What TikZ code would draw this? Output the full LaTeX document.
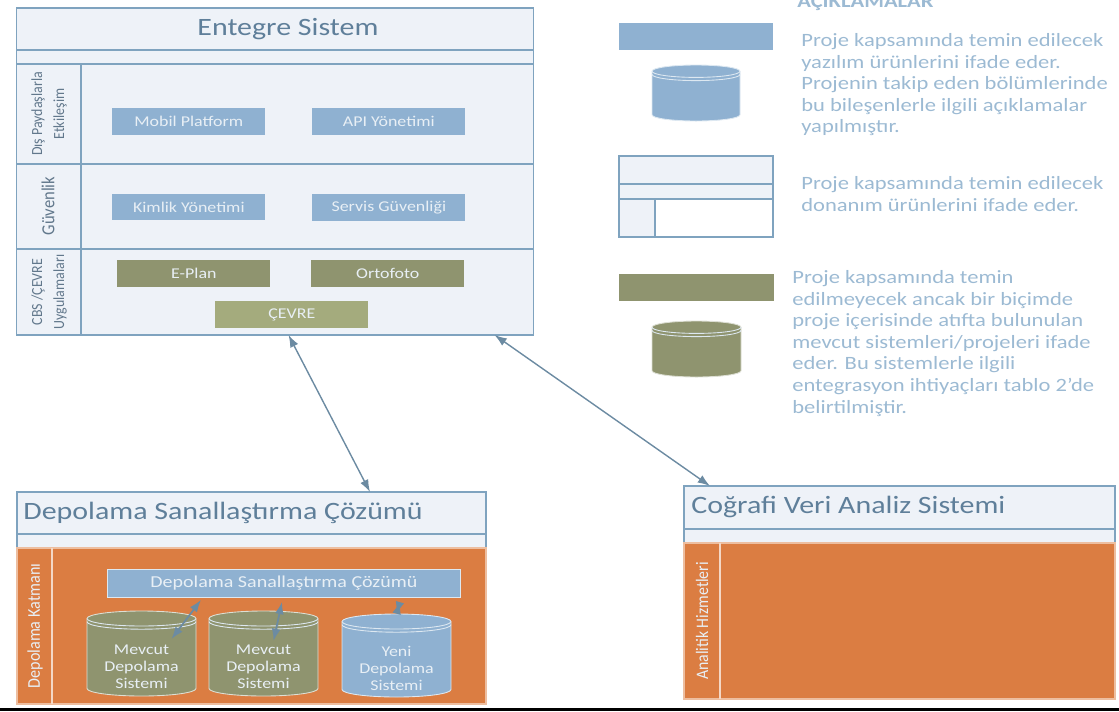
\documentclass[tikz,border=0pt]{standalone}
\usepackage{fontspec}
\setmainfont{Carlito}[FakeStretch=1.2]
\newfontfamily\vertfont{Carlito}[FakeStretch=0.9]
\usetikzlibrary{positioning, calc, arrows.meta}
\definecolor{panelfill}{HTML}{EEF2F8}
\definecolor{panelline}{HTML}{7FA3BF}
\definecolor{softblue}{HTML}{8FB1D1}
\definecolor{olive}{HTML}{8F946F}
\definecolor{paleolive}{HTML}{A4AB7D}
\definecolor{rust}{HTML}{DB7D42}
\definecolor{headtext}{HTML}{5F7F9A}
\definecolor{notetext}{HTML}{9CBAD3}
\definecolor{sidetext}{HTML}{62788C}
\definecolor{boxtext}{HTML}{E8EFF5}
\tikzset{
  panel/.style={draw=panelline, fill=panelfill, line width=0.7pt, anchor=north west, inner sep=0pt, outer sep=0pt},
  rustpanel/.style={draw=white!50!rust, fill=rust, line width=0.7pt, anchor=north west, inner sep=0pt, outer sep=0pt},
  headlabel/.style={font=\fontsize{14.2}{16}\selectfont, text=headtext, inner sep=0pt},
  sidelabel/.style={font=\vertfont\fontsize{8.8}{12.5}\selectfont, text=sidetext, rotate=90, align=center},
  swbox/.style={fill=softblue, text=boxtext, anchor=north west, inner sep=0pt, font=\fontsize{8.5}{10}\selectfont, minimum width=3.06cm, minimum height=0.53cm},
  extbox/.style={swbox, fill=olive},
  dbtext/.style={text=boxtext, align=center, inner sep=0pt, font=\fontsize{8.5}{9.7}\selectfont},
  rim/.style={white!70!softblue, line width=0.5pt},
  note/.style={anchor=north west, align=left, inner sep=0pt, text=notetext, font=\fontsize{10.7}{12.3}\selectfont},
  link/.style={{Latex[length=7pt,width=5pt]}-{Latex[length=7pt,width=5pt]}, draw=panelline!85!black, line width=0.8pt},
}
% name, centre x, top y, x radius, y radius, height, colour
\newcommand{\dbdisk}[7]{
      \node[minimum width=#4*0.04cm, minimum height=#6*0.02cm, inner sep=0pt, outer sep=0pt, anchor=north] at (#2,#3) (#1) {};
      \filldraw[fill=#7, draw=white!70!#7, line width=0.5pt] (#2-#4,#3+#5) arc[start angle=180, end angle=0, x radius=#4*0.02cm, y radius=#5*0.02cm]
        -- (#2+#4,#3+#6-#5) arc[start angle=0, end angle=-180, x radius=#4*0.02cm, y radius=#5*0.02cm] -- cycle;
      \draw[rim] (#2-#4,#3+#5) arc[start angle=180, end angle=360, x radius=#4*0.02cm, y radius=#5*0.02cm];
      \draw[rim] (#2-#4,#3+#5+3.2) arc[start angle=180, end angle=360, x radius=#4*0.02cm, y radius=#5*0.02cm];
}
\begin{document}
\begin{tikzpicture}[x=0.02cm, y=-0.02cm]
      \useasboundingbox (0,0) rectangle (1119,711);
      \fill[black] (0,708) rectangle (1119,711);

      \node[panel, minimum width=10.34cm, minimum height=0.84cm] at (16.5,8) (entegre) {};
      \node[headlabel] at ($(entegre)+(13,0)$) {Entegre Sistem};
      \node[panel, minimum width=10.34cm, minimum height=0.28cm, below=0cm of entegre] (entegrebar) {};
      \node[panel, minimum width=10.34cm, minimum height=2cm, below=0cm of entegrebar] (rowdis) {};
      \node[panel, minimum width=10.34cm, minimum height=1.7cm, below=0cm of rowdis] (rowguv) {};
      \node[panel, minimum width=10.34cm, minimum height=1.72cm, below=0cm of rowguv] (rowcbs) {};
      \draw[panelline, line width=0.7pt] (rowdis.north west) ++(64.5,0) coordinate (sidetop) -- (sidetop |- rowcbs.south);
      \node[sidelabel] at (49,114) (labdis) {Dış Paydaşlarla\\Etkileşim};
      \node[sidelabel, font=\vertfont\fontsize{10.5}{12.5}\selectfont] at (48,206) (labguv) {Güvenlik};
      \node[sidelabel] at (49,292) (labcbs) {CBS /ÇEVRE\\Uygulamaları};

      \node[swbox] at (112,108) (mobil) {Mobil Platform};
      \node[swbox] at (312,108) (api) {API Yönetimi};
      \node[swbox] at (112,193.5) (kimlik) {Kimlik Yönetimi};
      \node[swbox] at (312,194) (servis) {Servis Güvenliği};
      \node[extbox] at (117,260) (eplan) {E-Plan};
      \node[extbox] at (311,260) (orto) {Ortofoto};
      \node[extbox, fill=paleolive] at (215,301) (cevre) {ÇEVRE};

      \node[panel, minimum width=9.38cm, minimum height=0.84cm] at (17,492) (depo) {};
      \node[headlabel, anchor=west] at (23,513) {Depolama Sanallaştırma Çözümü};
      \node[panel, minimum width=9.38cm, minimum height=0.28cm, below=0cm of depo] (depobar) {};
      \node[rustpanel, minimum width=9.38cm, minimum height=3.12cm, below=0cm of depobar] (deporow) {};
      \draw[white!70!rust, line width=0.7pt] (deporow.north west) ++(35,0) coordinate (deposide) -- (deposide |- deporow.south);
      \node[sidelabel, text=boxtext, font=\vertfont\fontsize{10.2}{12}\selectfont] at (35,626) (labdepo) {Depolama Katmanı};
      \node[swbox, draw=white!70!softblue, line width=0.5pt, minimum width=7.06cm, minimum height=0.56cm] at (107,569) (sanal) {\fontsize{9.5}{11}\selectfont Depolama Sanallaştırma Çözümü};

      \dbdisk{mevcuta}{141.5}{611}{54.5}{7.5}{85}{olive}
      \node[dbtext] at ($(mevcuta.center)+(0,13.5)$) (texta) {Mevcut\\Depolama\\Sistemi};
      \dbdisk{mevcutb}{263.5}{611}{54.5}{7.5}{85}{olive}
      \node[dbtext] at ($(mevcutb.center)+(0,13.5)$) (textb) {Mevcut\\Depolama\\Sistemi};
      \dbdisk{yeni}{396.5}{614}{54.5}{7.5}{83}{softblue}
      \node[dbtext] at ($(yeni.center)+(0,12.5)$) (textc) {Yeni\\Depolama\\Sistemi};

      \node[panel, minimum width=8.62cm, minimum height=0.86cm] at (684,486) (cografi) {};
      \node[headlabel, anchor=west] at (691,507) {Coğrafi Veri Analiz Sistemi};
      \node[panel, minimum width=8.62cm, minimum height=0.28cm, below=0cm of cografi] (cografibar) {};
      \node[rustpanel, minimum width=8.62cm, minimum height=3.12cm, below=0cm of cografibar] (cografirow) {};
      \draw[white!70!rust, line width=0.7pt] (cografirow.north west) ++(36,0) coordinate (cografiside) -- (cografiside |- cografirow.south);
      \node[sidelabel, text=boxtext, font=\vertfont\fontsize{10}{12}\selectfont] at (702,621) (labanalitik) {Analitik Hizmetleri};

      \node[swbox, minimum width=3.08cm, minimum height=0.54cm] at (619,23) (keysw) {};
      \dbdisk{keydb}{696}{65}{44}{6.2}{56}{softblue}
      \node[panel, fill=white, minimum width=3.08cm, minimum height=0.56cm] at (619,156) (keyhead) {};
      \node[panel, minimum width=3.08cm, minimum height=0.3cm, below=0cm of keyhead] (keybar) {};
      \node[panel, fill=white, minimum width=3.08cm, minimum height=0.76cm, below=0cm of keybar] (keybody) {};
      \node[panel, minimum width=0.72cm, minimum height=0.76cm, below=0cm of keybar.south west, anchor=north west] (keyside) {};
      \fill[panelfill] (keyhead.north west) rectangle (keyhead.south east);
      \draw[panelline, line width=0.7pt] (keyhead.north west) rectangle (keyhead.south east);
      \node[extbox, minimum width=3.1cm, minimum height=0.54cm] at (619,274) (keyext) {};
      \dbdisk{keyextdb}{696.5}{321}{44.5}{6.2}{56}{olive}

      \node[note, font=\bfseries\fontsize{10.7}{12}\selectfont] at (797,-5) (keytitle) {AÇIKLAMALAR};
      \node[note] at (801,33) (notesw) {Proje kapsamında temin edilecek\\yazılım ürünlerini ifade eder.\\Projenin takip eden bölümlerinde\\bu bileşenlerle ilgili açıklamalar\\yapılmıştır.};
      \node[note] at (801,176) (notehw) {Proje kapsamında temin edilecek\\donanım ürünlerini ifade eder.};
      \node[note] at (792,270) (noteext) {Proje kapsamında temin\\edilmeyecek ancak bir biçimde\\proje içerisinde atıfta bulunulan\\mevcut sistemleri/projeleri ifade\\eder. Bu sistemlerle ilgili\\entegrasyon ihtiyaçları tablo 2'de\\belirtilmiştir.};

      \draw[link] ($(rowcbs.south west)+(272,0)$) -- ($(depo.north west)+(353,0)$);
      \draw[link] ($(rowcbs.south west)+(478,0)$) -- ($(cografi.north west)+(26,0)$);
      \draw[link, line width=1pt] ($(sanal.south west)+(94,2)$) -- ($(mevcuta.north)+(30,28)$);
      \draw[link, line width=1pt] ($(sanal.south west)+(175,4)$) -- ($(mevcutb.north)+(10,30)$);
      \draw[link, line width=1pt] ($(sanal.south west)+(293,4)$) -- (yeni.north);
\end{tikzpicture}
\end{document}
